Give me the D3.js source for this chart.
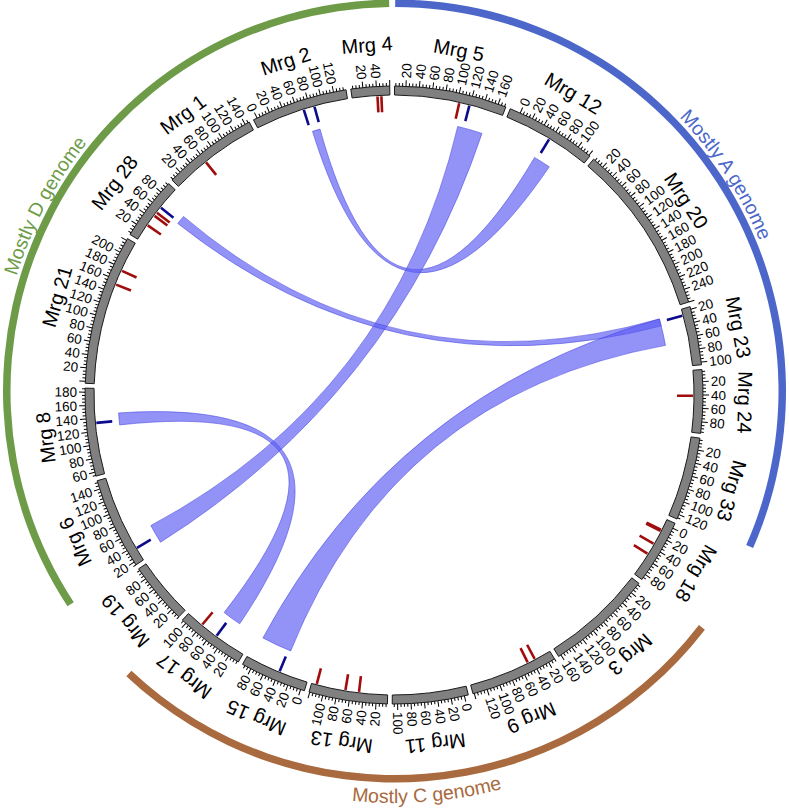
<!DOCTYPE html>
<html><head><meta charset="utf-8">
<script src="https://cdn.jsdelivr.net/npm/d3@7"></script>
<style>body{margin:0;background:#fff}svg{display:block}text{font-family:"Liberation Sans",Arial,sans-serif}</style>
</head><body><svg id="c" width="789" height="811"></svg>
<script>
// ---------- data ----------
const chromNames = ["Mrg 5","Mrg 12","Mrg 20","Mrg 23","Mrg 24","Mrg 33","Mrg 18","Mrg 3","Mrg 9","Mrg 11","Mrg 13","Mrg 15","Mrg 17","Mrg 19","Mrg 6","Mrg 8","Mrg 21","Mrg 28","Mrg 1","Mrg 2","Mrg 4"];
const chromStart = [3,-16,2,16,2,2,-8,2,10,-6,3,-6,3,5,15,54,-3,2,3,-6,2];
const chromEnd   = [172,122,260,104,97,127,89,164,142,108,121,94,107,98,153,186,223,97,147,139,60];

const genomeNames  = ["Mostly D genome","Mostly A genome","Mostly C genome"];
const genomeFirst  = ["Mrg 6","Mrg 5","Mrg 3"];
const genomeLast   = ["Mrg 4","Mrg 33","Mrg 17"];
const genomeColors = ["#6d9b48","#4c67c9","#a86a3e"];

const linkChromA = ["Mrg 2","Mrg 5","Mrg 28","Mrg 8","Mrg 15"];
const linkStartA = [73,109,59,126,35];
const linkEndA   = [86,151,74,146,86];
const linkChromB = ["Mrg 12","Mrg 6","Mrg 23","Mrg 17","Mrg 23"];
const linkStartB = [52,24,21,33,21];
const linkEndB   = [81,56,33,65,66];

const markChrom = ["Mrg 5","Mrg 5","Mrg 12","Mrg 23","Mrg 24","Mrg 18","Mrg 18","Mrg 18","Mrg 18","Mrg 9","Mrg 9","Mrg 13","Mrg 13","Mrg 13","Mrg 15","Mrg 17","Mrg 17","Mrg 6","Mrg 8","Mrg 21","Mrg 21","Mrg 28","Mrg 28","Mrg 28","Mrg 28","Mrg 1","Mrg 2","Mrg 2","Mrg 4","Mrg 4"];
const markPos   = [103,119,57,26,41,10,12,34,52,36,48,47,68,113,39,52,80,36,133,153,176,28,46,52,62,59,70,87,41,47];
const markType  = ["r","b","b","b","r","r","r","r","r","r","r","r","r","r","b","b","r","b","b","r","r","r","r","r","b","r","b","b","r","r"];

// ---------- layout ----------
const cx=394, cy=395, gcx=394.5, gcy=391;
const R_IN=300, R_OUT=309, R_RIB=276, MARK_IN=283, MARK_OUT=299;
const GAP_UNITS=7.12, START_DEG=0.1;
const PI=Math.PI, deg=r=>r*180/PI;

const offsets=[]; let acc=0;
chromNames.forEach((n,i)=>{offsets.push(acc); acc+=chromEnd[i]-chromStart[i]+GAP_UNITS;});
const ang = d3.scaleLinear().domain([0,acc]).range([START_DEG*PI/180, START_DEG*PI/180+2*PI]);
const idx = Object.fromEntries(chromNames.map((n,i)=>[n,i]));
const A = (n,v)=>{const i=idx[n]; return ang(offsets[i]+v-chromStart[i]);};

const svg=d3.select("#c");

// genome arcs + labels
const gg=svg.append("g").attr("transform",`translate(${gcx},${gcy})`);
const garc=d3.arc().innerRadius(384).outerRadius(391.5);
function arcPath(r,a0,a1,sweep){
  const p=a=>[r*Math.sin(a),-r*Math.cos(a)];
  const large=Math.abs(a1-a0)>PI?1:0;
  return `M${p(a0)}A${r},${r} 0 ${large} ${sweep} ${p(a1)}`;
}
genomeNames.forEach((name,i)=>{
  const a0=A(genomeFirst[i],chromStart[idx[genomeFirst[i]]]);
  const a1=A(genomeLast[i],chromEnd[idx[genomeLast[i]]]);
  gg.append("path").attr("d",garc({startAngle:a0,endAngle:a1})).attr("fill",genomeColors[i]);
  const mid=(a0+a1)/2, half=0.75;
  const mid2=mid%(2*PI);
  const bottom = mid2>PI/2 && mid2<3*PI/2;
  const id="gp"+i;
  if(bottom) gg.append("path").attr("id",id).attr("fill","none").attr("d",arcPath(412,mid+half,mid-half,0));
  else gg.append("path").attr("id",id).attr("fill","none").attr("d",arcPath(395,mid-half,mid+half,1));
  gg.append("text").attr("font-size",19.5).attr("fill",genomeColors[i])
    .append("textPath").attr("href","#"+id).attr("startOffset","50%").attr("text-anchor","middle").text(name);
});

const g=svg.append("g").attr("transform",`translate(${cx},${cy})`);

// ribbons
const ribbon=d3.ribbon().radius(R_RIB);
g.selectAll("path.rib").data(linkChromA.map((c,i)=>i)).join("path")
  .attr("class","rib")
  .attr("d",i=>ribbon({source:{startAngle:A(linkChromA[i],linkStartA[i]),endAngle:A(linkChromA[i],linkEndA[i])},
                       target:{startAngle:A(linkChromB[i],linkStartB[i]),endAngle:A(linkChromB[i],linkEndB[i])}}))
  .attr("fill","rgb(95,95,243)").attr("fill-opacity",0.68)
  .attr("stroke","rgb(70,70,225)").attr("stroke-opacity",0.7).attr("stroke-width",0.8);

// marks
g.selectAll("line.mk").data(markChrom.map((c,i)=>i)).join("line")
  .attr("class","mk")
  .attr("transform",i=>`rotate(${deg(A(markChrom[i],markPos[i]))-90})`)
  .attr("x1",MARK_IN).attr("x2",MARK_OUT)
  .attr("stroke",i=>markType[i]==="r"?"#a00d0d":"#0b0b8c").attr("stroke-width",2.6);

// ideograms
const carc=d3.arc().innerRadius(R_IN).outerRadius(R_OUT);
g.selectAll("path.chr").data(chromNames).join("path").attr("class","chr")
  .attr("d",n=>carc({startAngle:A(n,chromStart[idx[n]]),endAngle:A(n,chromEnd[idx[n]])}))
  .attr("fill","#808080").attr("stroke","#1a1a1a").attr("stroke-width",1);

// ticks + labels
chromNames.forEach((n,i)=>{
  const s=chromStart[i], e=chromEnd[i];
  for(let v=Math.ceil(Math.max(s,0)/5)*5; v<=e; v+=5){
    const a=deg(A(n,v)), major=v%20===0;
    g.append("line").attr("transform",`rotate(${a-90})`)
      .attr("x1",R_OUT).attr("x2",R_OUT+(major?6:3)).attr("stroke","#000").attr("stroke-width",1);
    if(major && v-s>=3.5 && e-v>=3.5){
      const left=(a%360)>180;
      g.append("text").attr("font-size",13.5).attr("dy","0.35em")
        .attr("text-anchor",left?"end":"start")
        .attr("transform",`rotate(${a-90}) translate(${R_OUT+8},0)`+(left?" rotate(180)":""))
        .text(v);
    }
  }
  const mid=deg((A(n,s)+A(n,e))/2);
  g.append("text").attr("font-size",20).attr("text-anchor","middle")
    .attr("transform",`rotate(${mid}) translate(0,${-344})`).text(n);
});
</script></body></html>
